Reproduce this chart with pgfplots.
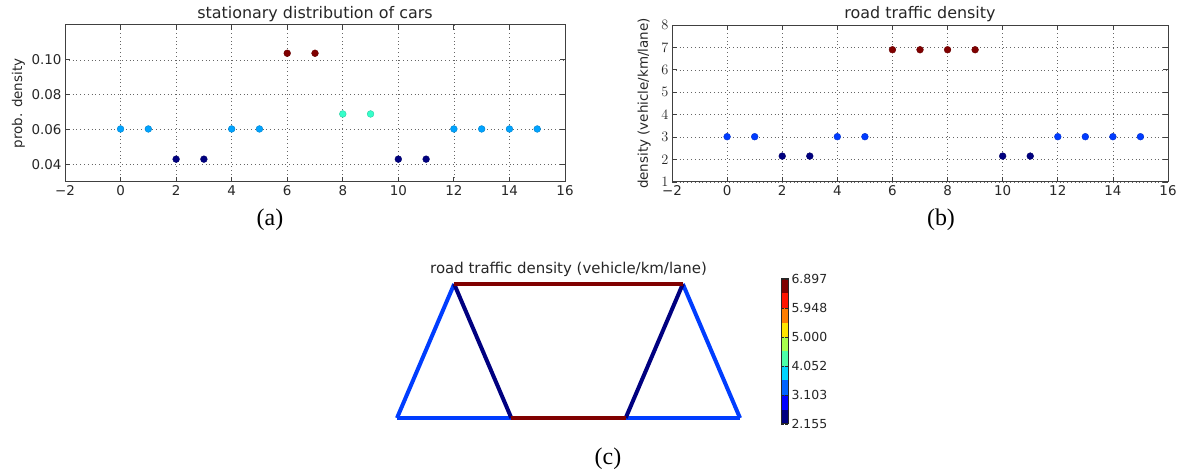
\documentclass[border=0pt]{standalone}
\usepackage{fontspec}
\setmainfont{DejaVu Sans}
\newfontfamily\capfont{Liberation Serif}
\usepackage{pgfplots}
\pgfplotsset{compat=1.18}

\definecolor{framegray}{gray}{0.25}
\definecolor{textgray}{gray}{0.15}
% jet colours of the edges
\definecolor{edgeblue}{rgb}{0,0.24,1}
\definecolor{edgedark}{rgb}{0,0,0.5}
\definecolor{edgered}{rgb}{0.5,0,0}
% 10 level jet for the colour bar
\definecolor{cb0}{rgb}{0,0,0.5}
\definecolor{cb1}{rgb}{0,0,1}
\definecolor{cb2}{rgb}{0,0.39,1}
\definecolor{cb3}{rgb}{0,0.83,1}
\definecolor{cb4}{rgb}{0.30,1,0.66}
\definecolor{cb5}{rgb}{0.66,1,0.30}
\definecolor{cb6}{rgb}{1,0.9,0}
\definecolor{cb7}{rgb}{1,0.49,0}
\definecolor{cb8}{rgb}{1,0.08,0}
\definecolor{cb9}{rgb}{0.5,0,0}

\pgfplotsset{
  every axis title shift=0pt,
  mpl/.style={
    scale only axis,
    anchor=south west,
    axis line style={framegray, line width=1bp},
    tick style={framegray, line width=0.8bp},
    major tick length=5bp,
    tick align=inside,
    grid=major,
    major grid style={black!60, line width=0.7bp, dash pattern=on 0.8bp off 3bp},
    tick label style={font=\fontsize{13.5}{16}\selectfont, text=textgray},
    label style={font=\fontsize{13.5}{16}\selectfont, text=textgray},
    title style={font=\fontsize{16}{18}\selectfont, text=textgray,
      at={(0.5,1)}, anchor=base, yshift=6.5bp, inner sep=0pt},
    xmin=-2, xmax=16, xtick={-2,0,...,16},
    xticklabels={−2,0,2,4,6,8,10,12,14,16},
    colormap/jet,
  },
  dots/.style={scatter, only marks, mark=*, mark size=3.4bp, scatter src=y},
}

\begin{document}
\begin{tikzpicture}
\useasboundingbox (0bp,0bp) rectangle (1179bp,474bp);

% (a)
\begin{axis}[mpl, at={(65bp,292bp)}, width=500bp, height=157bp,
  ymin=0.03, ymax=0.12, ytick={0.04,0.06,0.08,0.10},
  yticklabels={0.04,0.06,0.08,0.10},
  title={stationary distribution of cars},
  ylabel={prob. density},
  ylabel style={at={(axis description cs:-0.093,0.5)}, anchor=center}]
\addplot[dots] coordinates {
  (0,0.0604) (1,0.0604) (2,0.0431) (3,0.0431) (4,0.0604) (5,0.0604)
  (6,0.1038) (7,0.1038) (8,0.0690) (9,0.0690) (10,0.0431) (11,0.0431)
  (12,0.0604) (13,0.0604) (14,0.0604) (15,0.0604)
};
\end{axis}
\node[font=\capfont\fontsize{24}{26}\selectfont] at (270bp,254bp) {(a)};

% (b)
\begin{axis}[mpl, at={(672bp,292bp)}, width=496bp, height=157bp,
  ymin=1, ymax=8, ytick={1,2,...,8},
  title={road traffic density},
  ylabel={density (vehicle/km/lane)},
  ylabel style={at={(axis description cs:-0.056,0.5)}, anchor=center}]
\addplot[dots] coordinates {
  (0,3.02) (1,3.02) (2,2.155) (3,2.155) (4,3.02) (5,3.02)
  (6,6.897) (7,6.897) (8,6.897) (9,6.897) (10,2.155) (11,2.155)
  (12,3.02) (13,3.02) (14,3.02) (15,3.02)
};
\end{axis}
\node[font=\capfont\fontsize{24}{26}\selectfont] at (941bp,254bp) {(b)};

% (c) road network
\begin{axis}[scale only axis, anchor=south west, at={(397bp,56bp)},
  width=343bp, height=134bp, xmin=0, xmax=6, ymin=0, ymax=1,
  hide axis, clip=false,
  title={road traffic density (vehicle/km/lane)},
  title style={font=\fontsize{15}{17}\selectfont, text=textgray,
    at={(0.5,1)}, anchor=base, yshift=10bp, inner sep=0pt}]
\addplot[edgeblue, line width=4bp] coordinates {(0,0) (2,0)};
\addplot[edgeblue, line width=4bp] coordinates {(4,0) (6,0)};
\addplot[edgeblue, line width=4bp] coordinates {(0,0) (1,1)};
\addplot[edgeblue, line width=4bp] coordinates {(5,1) (6,0)};
\addplot[edgedark, line width=4bp] coordinates {(1,1) (2,0)};
\addplot[edgedark, line width=4bp] coordinates {(4,0) (5,1)};
\addplot[edgered, line width=4bp] coordinates {(1,1) (5,1)};
\addplot[edgered, line width=4bp] coordinates {(2,0) (4,0)};
\end{axis}

% colour bar
\begin{axis}[scale only axis, anchor=south west, at={(781bp,50bp)},
  width=7bp, height=145bp, xmin=0, xmax=1, ymin=2.155, ymax=6.897,
  axis on top, xtick=\empty,
  ytick={2.155,3.103,4.052,5.000,5.948,6.897},
  yticklabels={2.155,3.103,4.052,5.000,5.948,6.897},
  yticklabel pos=right, tick align=inside, major tick length=3bp,
  axis line style={black!85, line width=1bp},
  tick style={black!85, line width=0.8bp},
  tick label style={font=\fontsize{12.5}{15}\selectfont, text=textgray}]
\addplot[fill=cb0, draw=none] coordinates {(0,2.155) (1,2.155) (1,2.629) (0,2.629)};
\addplot[fill=cb1, draw=none] coordinates {(0,2.629) (1,2.629) (1,3.103) (0,3.103)};
\addplot[fill=cb2, draw=none] coordinates {(0,3.103) (1,3.103) (1,3.578) (0,3.578)};
\addplot[fill=cb3, draw=none] coordinates {(0,3.578) (1,3.578) (1,4.052) (0,4.052)};
\addplot[fill=cb4, draw=none] coordinates {(0,4.052) (1,4.052) (1,4.526) (0,4.526)};
\addplot[fill=cb5, draw=none] coordinates {(0,4.526) (1,4.526) (1,5.000) (0,5.000)};
\addplot[fill=cb6, draw=none] coordinates {(0,5.000) (1,5.000) (1,5.474) (0,5.474)};
\addplot[fill=cb7, draw=none] coordinates {(0,5.474) (1,5.474) (1,5.948) (0,5.948)};
\addplot[fill=cb8, draw=none] coordinates {(0,5.948) (1,5.948) (1,6.423) (0,6.423)};
\addplot[fill=cb9, draw=none] coordinates {(0,6.423) (1,6.423) (1,6.897) (0,6.897)};
\end{axis}
\node[font=\capfont\fontsize{24}{26}\selectfont] at (608bp,15bp) {(c)};
\end{tikzpicture}
\end{document}
